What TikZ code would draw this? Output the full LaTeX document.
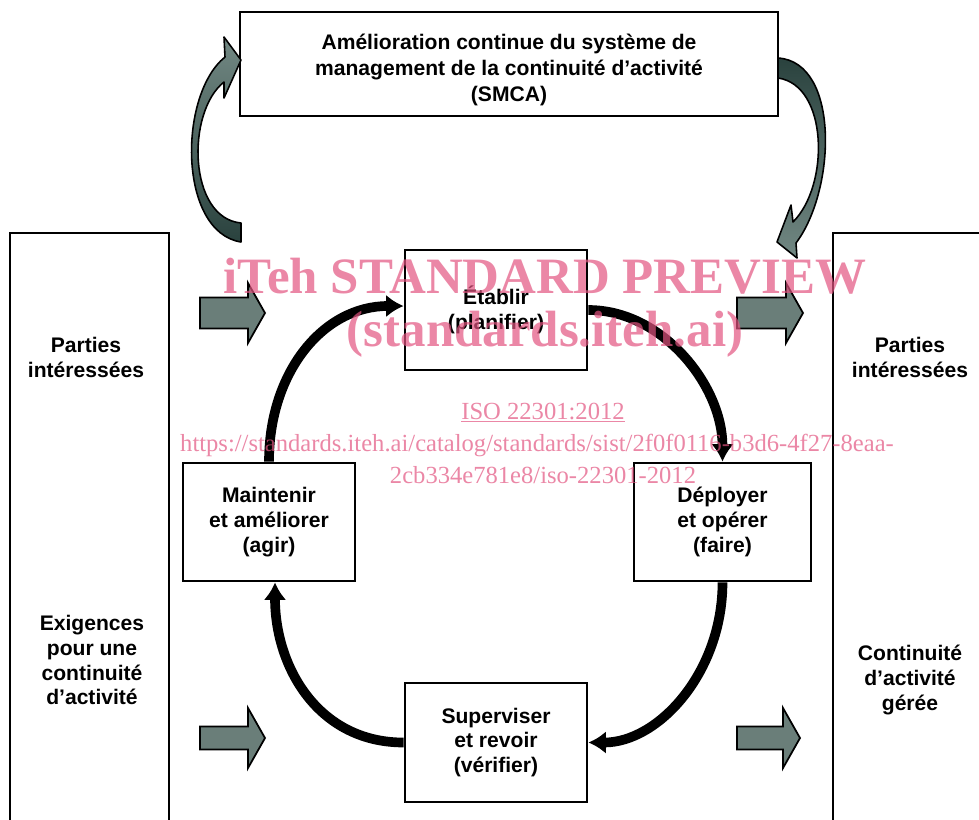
\documentclass[tikz,border=0pt]{standalone}
\usepackage{fontspec}
\setmainfont{Liberation Sans}
\newfontfamily\wmfont{Liberation Serif}
\usetikzlibrary{arrows.meta}

\definecolor{flechegris}{RGB}{106,126,121}
\definecolor{flechefonce}{RGB}{42,66,62}
\definecolor{flecheclair}{RGB}{114,136,131}
\definecolor{filigrane}{RGB}{226,84,128}

\begin{document}
\begin{tikzpicture}[x=0.02cm, y=-0.02cm, >={Latex[length=10pt,width=13pt]},
    boite/.style={draw, line width=1.6pt, align=center, font=\bfseries\fontsize{12}{14.2}\selectfont},
    texte/.style={align=center, font=\bfseries\fontsize{12}{14.2}\selectfont},
    cyclefleche/.style={line width=5.5pt, ->},
    bloc/.style={draw, line width=1pt, fill=flechegris, line join=miter},
    courbe/.style={draw, line width=0.9pt, line join=round},
    wm/.style={text=filigrane, text opacity=0.7, anchor=base}]

\useasboundingbox (0,0) rectangle (979,819);

    % cadre du haut
    \node[boite, minimum width=10.76cm, minimum height=2.08cm] (smca) at (509,64) {};
    \node[texte, font=\bfseries\fontsize{12}{14.8}\selectfont] (smcatxt) at (509,70) {Amélioration continue du système de\\management de la continuité d’activité\\(SMCA)};

    % colonnes gauche et droite
    \draw[line width=1.6pt] (10,822) -- (10,233) -- (169,233) -- (169,822);
    \draw[line width=1.6pt] (833,822) -- (833,233) -- (982,233);

    \node[texte] (pig) at (86,357) {Parties\\intéressées};
    \node[texte] (exig) at (92,660) {Exigences\\pour une\\continuité\\d’activité};
    \node[texte] (pid) at (910,357) {Parties\\intéressées};
    \node[texte] (cont) at (910,680) {Continuité\\d’activité\\gérée};

    % les quatre etapes
    \node[boite, minimum width=3.64cm, minimum height=2.4cm] (etab) at (496,310) {Établir\\(planifier)};
    \node[boite, minimum width=3.44cm, minimum height=2.36cm] (maint) at (269,522) {Maintenir\\et améliorer\\(agir)};
    \node[boite, minimum width=3.54cm, minimum height=2.36cm] (depl) at (722.5,522) {Déployer\\et opérer\\(faire)};
    \node[boite, minimum width=3.64cm, minimum height=2.38cm] (superv) at (496,742.5) {Superviser\\et revoir\\(vérifier)};

    \draw[cyclefleche] (etab.east) .. controls +(75,0) and +(0,-75) .. (depl.north);
    \draw[cyclefleche] (depl.south) .. controls +(0,90) and +(70,0) .. (superv.east);
    \draw[cyclefleche] (superv.west) .. controls +(-85,0) and +(0,85) .. ([xshift=0.12cm]maint.south);
    \draw[cyclefleche] (maint.north) .. controls +(0,-90) and +(-80,0) .. ([yshift=0.08cm]etab.west);

    % fleches pleines
    \foreach \bx/\by/\sh/\tip in {200/313/15.5/265, 200/738/11.5/265, 737/313/15.5/803, 737/738/11.5/800}
        \draw[bloc] (\bx,\by-\sh) -- (\tip-17,\by-\sh) -- (\tip-17,\by-30) -- (\tip,\by)
            -- (\tip-17,\by+30) -- (\tip-17,\by+\sh) -- (\bx,\by+\sh) -- cycle;

    % fleches courbes
    \draw[courbe, top color=flecheclair, bottom color=flechefonce]
        (241,242) .. controls (178,232) and (178,95) .. (225,57) -- (224,37) -- (241,60)
        -- (224,98) -- (224,82) .. controls (186,112) and (188,218) .. (241,223) -- cycle;
    \draw[courbe, top color=flechefonce, bottom color=flecheclair]
        (778,58) .. controls (840,62) and (836,190) .. (796,243) -- (797,258) -- (777,242)
        -- (791,205) -- (793,222) .. controls (830,185) and (828,85) .. (778,78) -- cycle;

    % filigrane
    \node[wm, font=\wmfont\bfseries\fontsize{29}{30}\selectfont] (wm1) at (545,293) {iTeh STANDARD PREVIEW};
    \node[wm, font=\wmfont\bfseries\fontsize{29}{30}\selectfont] (wm2) at (545,346) {(standards.iteh.ai)};
    \node[wm, font=\wmfont\fontsize{14}{15}\selectfont] (wm3) at (543,419) {\underline{ISO 22301:2012}};
    \node[wm, font=\wmfont\fontsize{14}{15}\selectfont] (wm4) at (537,451) {https://standards.iteh.ai/catalog/standards/sist/2f0f0116-b3d6-4f27-8eaa-};
    \node[wm, font=\wmfont\fontsize{14}{15}\selectfont] (wm5) at (543,483) {2cb334e781e8/iso-22301-2012};

\end{tikzpicture}
\end{document}
